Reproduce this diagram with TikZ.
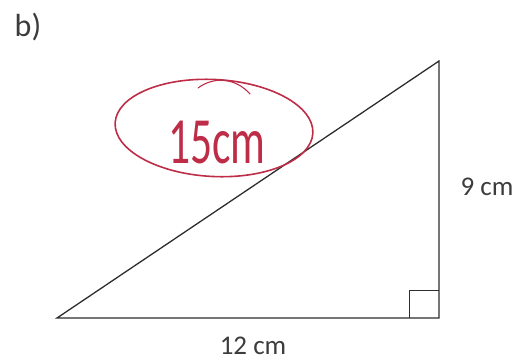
\documentclass[tikz,border=0pt]{standalone}
\usepackage{fontspec}
\setmainfont{Carlito}
\usepackage{tikz}
\usetikzlibrary{shapes.geometric}
\definecolor{InkDark}{RGB}{45,45,45}
\definecolor{TextGrey}{RGB}{60,60,60}
\definecolor{PenRed}{RGB}{190,45,72}
\begin{document}
\begin{tikzpicture}[x=1pt, y=-1pt,
        side/.style={draw=InkDark, line width=1.3pt, line join=miter},
        lbl/.style={font=\fontsize{27}{30}\selectfont, text=TextGrey, inner sep=0pt},
        pen/.style={draw=PenRed, line width=1.6pt, line cap=round}
      ]
        \useasboundingbox (0,0) rectangle (521,362);
        \coordinate (A) at (57,318);
        \coordinate (B) at (439,318);
        \coordinate (C) at (439,61);
        \draw[side] (A) -- (B) -- (C) -- cycle;
        \draw[side, line width=1pt] (B) ++(-30,0) |- ++(30,-28);
        \node[lbl] (part) at (28,27) {\fontsize{32}{34}\selectfont b)};
        \node[lbl] (base) at (253,346) {12 cm};
        \node[lbl] (height) at (487,187) {9 cm};
        % marking of the hypotenuse
        \node[pen, ellipse, rotate=-3, minimum width=198pt, minimum height=97pt] (ring) at (214,128) {};
        \node[text=PenRed, inner sep=0pt, font=\fontsize{66}{70}\selectfont] (hyp) at (217,142) {\scalebox{0.66}[1]{15cm}};
        \draw[pen, line width=1.1pt] (198,88) .. controls (214,76) and (236,78) .. (250,94);
      \end{tikzpicture}
\end{document}
